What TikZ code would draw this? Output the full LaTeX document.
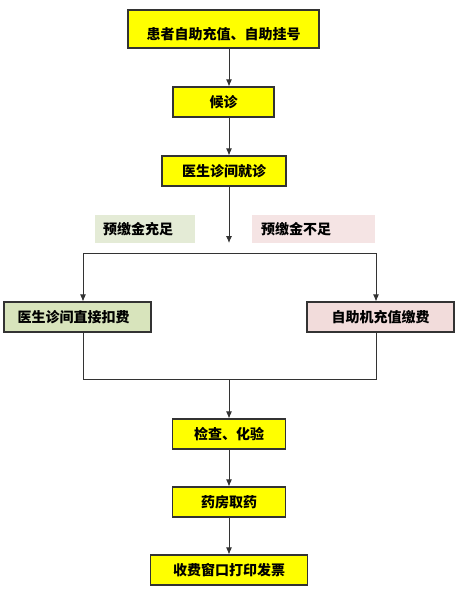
\documentclass[tikz,border=0pt]{standalone}
\usepackage{fontspec}
\newfontfamily\cjk{Noto Sans CJK SC}
\usetikzlibrary{arrows.meta}
\definecolor{ybox}{HTML}{FFFF00}
\definecolor{gbox}{HTML}{D8E4BC}
\definecolor{pbox}{HTML}{F2DCDB}
\definecolor{glab}{HTML}{E4EBD6}
\definecolor{plab}{HTML}{F5E4E4}
\definecolor{edge}{HTML}{333333}
\tikzset{
  box/.style={draw=edge, line width=1.1pt, rectangle, inner sep=0pt,
    font=\cjk\bfseries\fontsize{14}{16}\selectfont, text=black},
  yel/.style={box, fill=ybox},
  lab/.style={rectangle, inner ysep=0pt, align=left, font=\cjk\bfseries\fontsize{14}{16}\selectfont, text=black},
  arr/.style={draw=edge, line width=0.9pt, -{Latex[length=7pt,width=6pt]}},
  ln/.style={draw=edge, line width=0.9pt},
}
\begin{document}
\begin{tikzpicture}[x=1pt,y=-1pt]
\useasboundingbox (0,0) rectangle (458,599);
\fill[white] (0,0) rectangle (458,599);
\node[yel, minimum width=191pt, minimum height=38pt] (b1) at (223.5,29) {\raisebox{-5pt}[\height][\depth]{患者自助充值、自助挂号}};
\node[yel, minimum width=101pt, minimum height=30pt] (b2) at (223.5,102) {候诊};
\node[yel, minimum width=124pt, minimum height=30pt] (b3) at (224,171) {医生诊间就诊};
\node[lab, fill=glab, inner xsep=8pt, text width=84pt, minimum height=28pt] (g) at (145,229) {预缴金充足};
\node[lab, fill=plab, inner xsep=9pt, text width=105pt, minimum height=28pt] (p) at (313.5,229) {预缴金不足};
\node[box, fill=gbox, minimum width=147pt, minimum height=30pt] (L) at (77.5,317) {\hspace{-8pt}医生诊间直接扣费};
\node[box, fill=pbox, minimum width=147pt, minimum height=30pt] (R) at (380.5,317) {自助机充值缴费};
\node[yel, minimum width=113pt, minimum height=30pt] (b4) at (229,434) {检查、化验};
\node[yel, minimum width=113pt, minimum height=30pt] (b5) at (229,502) {药房取药};
\node[yel, minimum width=157pt, minimum height=30pt] (b6) at (229,570) {收费窗口打印发票};
\coordinate (ax) at (229,0);
\coordinate (sp) at (229,243);
\coordinate (hl) at (83,253);
\coordinate (hr) at (376,253);
\coordinate (bl) at (83,379);
\coordinate (br) at (376,379);
\coordinate (bm) at (229,379);
\draw[arr] (b1.south -| ax) -- (b2.north -| ax);
\draw[arr] (b2.south -| ax) -- (b3.north -| ax);
\draw[arr] (b3.south -| ax) -- (sp);
\draw[ln] (hl) -- (hr);
\draw[arr] (hl) -- (L.north -| hl);
\draw[arr] (hr) -- (R.north -| hr);
\draw[ln] (L.south -| hl) -- (bl) -- (br) -- (R.south -| hr);
\draw[arr] (bm) -- (b4.north -| ax);
\draw[arr] (b4.south -| ax) -- (b5.north -| ax);
\draw[arr] (b5.south -| ax) -- (b6.north -| ax);
\end{tikzpicture}
\end{document}
